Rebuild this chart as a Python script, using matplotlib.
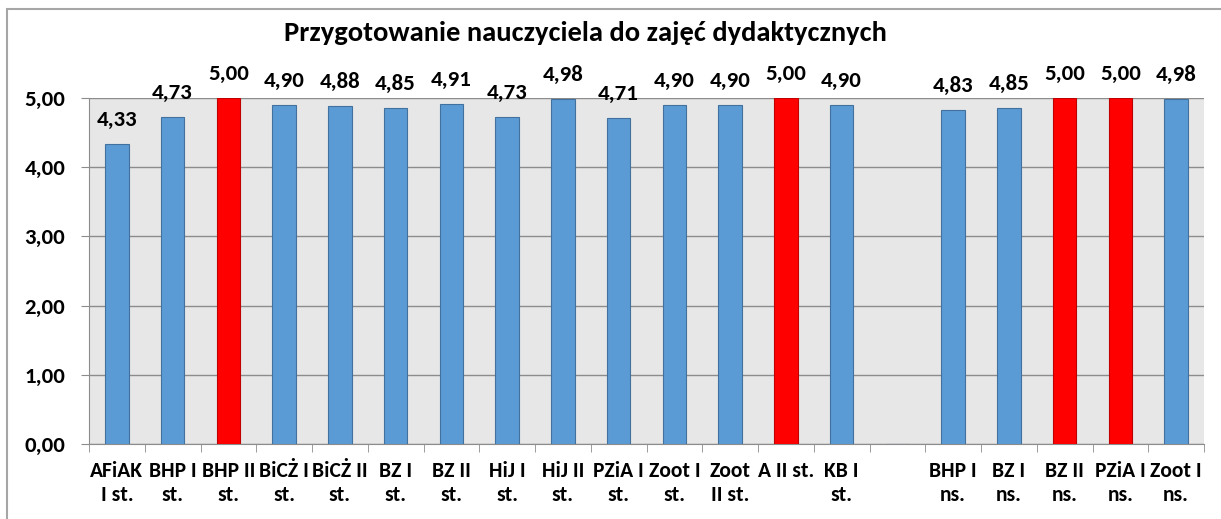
import matplotlib.pyplot as plt
import numpy as np
from matplotlib.patches import Rectangle

plt.rcParams['font.family'] = ['Carlito', 'DejaVu Sans']

# kategorie (pusta pozycja = przerwa między st. i ns.)
labels = ['AFiAK\nI st.', 'BHP I\nst.', 'BHP II\nst.', 'BiCŻ I\nst.', 'BiCŻ II\nst.',
          'BZ I\nst.', 'BZ II\nst.', 'HiJ I\nst.', 'HiJ II\nst.', 'PZiA I\nst.',
          'Zoot I\nst.', 'Zoot\nII st.', 'A II st.\n ', 'KB I\nst.', '',
          'BHP I\nns.', 'BZ I\nns.', 'BZ II\nns.', 'PZiA I\nns.', 'Zoot I\nns.']
values = [4.33, 4.73, 5.00, 4.90, 4.88, 4.85, 4.91, 4.73, 4.98, 4.71,
          4.90, 4.90, 5.00, 4.90, np.nan, 4.83, 4.85, 5.00, 5.00, 4.98]
value_labels = ['4,33', '4,73', '5,00', '4,90', '4,88', '4,85', '4,91', '4,73', '4,98', '4,71',
                '4,90', '4,90', '5,00', '4,90', '', '4,83', '4,85', '5,00', '5,00', '4,98']
y_ticks = [0, 1, 2, 3, 4, 5]
y_tick_labels = ['0,00', '1,00', '2,00', '3,00', '4,00', '5,00']

W, H = 1221, 519
fig = plt.figure(figsize=(W / 100, H / 100), dpi=100)
ax = fig.add_axes([89 / W, 1 - 444 / H, (1204 - 89) / W, (444 - 98) / H])

x = np.arange(len(values))
colors = ['#FF0000' if v == 5.0 else '#5B9BD5' for v in values]
edges = ['#C00000' if v == 5.0 else '#41719C' for v in values]
vals = np.nan_to_num(values)
ax.bar(x, vals, width=0.42, color=colors, edgecolor=edges, linewidth=0.8, zorder=3)

for xi, v, t in zip(x, vals, value_labels):
    if t:
        ax.annotate(t, (xi, v), xytext=(0, 13), textcoords='offset points',
                    ha='center', va='baseline', fontsize=16.5, fontweight='bold',
                    annotation_clip=False)

ax.set_facecolor('#E7E7E7')
ax.set_xlim(-0.5, len(values) - 0.5)
ax.set_ylim(0, 5)
ax.set_yticks(y_ticks)
ax.set_yticklabels(y_tick_labels, fontsize=16.5, fontweight='bold')
ax.yaxis.grid(True, color='#8C8C8C', linewidth=1, zorder=0)

# etykiety między podziałkami jak w Excelu
ax.set_xticks(x)
ax.set_xticklabels(labels, fontsize=15.5, fontweight='bold', linespacing=1.3)
ax.tick_params(axis='x', length=0, pad=12)
ax.set_xticks(np.arange(-0.5, len(values)), minor=True)
ax.tick_params(axis='x', which='minor', length=6, color='#8C8C8C', direction='out')
ax.tick_params(axis='y', length=6, color='#8C8C8C', pad=11)

for s in ['top', 'right']:
    ax.spines[s].set_visible(False)
ax.spines['left'].set_color('#8C8C8C')
ax.spines['bottom'].set_color('#8C8C8C')

fig.text(585 / W, 1 - 33 / H, 'Przygotowanie nauczyciela do zajęć dydaktycznych',
         ha='center', va='center', fontsize=20.5, fontweight='bold')

fig.patches.append(Rectangle((7 / W, -0.1), 1.2, 1 - 9 / H + 0.1, transform=fig.transFigure,
                             fill=False, edgecolor='#A6A6A6', linewidth=1.5))

fig.savefig('out.png', dpi=100, facecolor='white')
